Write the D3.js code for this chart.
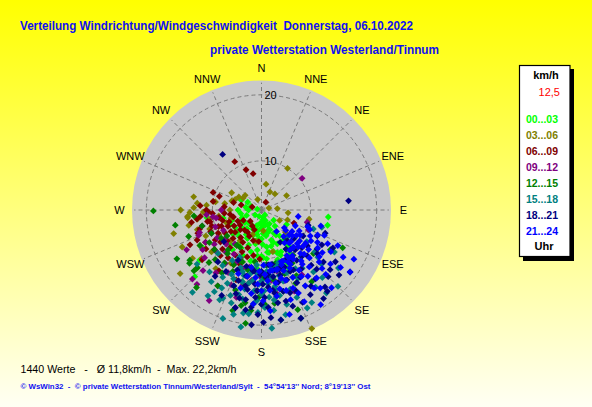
<!DOCTYPE html>
<html>
<head>
<meta charset="utf-8">
<script src="https://cdn.jsdelivr.net/npm/d3@7"></script>
<style>
body { margin: 0; }
svg { display: block; font-family: "Liberation Sans", Arial, sans-serif; }
</style>
</head>
<body>
<svg id="chart" width="592" height="407"></svg>
<script>
// TEXTS
var titleText = "Verteilung Windrichtung/Windgeschwindigkeit  Donnerstag, 06.10.2022";
var subTitleText = "private Wetterstation Westerland/Tinnum";
var footerStats = ["1440 Werte", "Ø 11,8km/h", "Max. 22,2km/h"];
var footerCopy = "© WsWin32  -  © private Wetterstation Tinnum/Westerland/Sylt  -  54°54'13'' Nord; 8°19'13'' Ost";

// AXES
var directions = ["N","NNE","NE","ENE","E","ESE","SE","SSE","S","SSW","SW","WSW","W","WNW","NW","NNW"];
var ringValues = [10, 20];
var maxSpeed = 22;

// LEGEND
var legendUnit = "km/h";
var legendCurrent = "12,5";
var hourLabels = ["00...03","03...06","06...09","09...12","12...15","15...18","18...21","21...24"];
var hourColors = ["#00ff00","#808000","#800000","#800080","#008000","#008080","#000080","#0000ff"];

// WIND SAMPLES [direction in degrees, speed km/h] PER 3-HOUR BLOCK
var h00 = [[296,5.3],[270,3.4],[282,1.4],[168,2.1],[145,1.8],[232,2.3],[248,5],[221,4.3],[171,2.7],[157,5.1],
  [190,5.8],[207,7],[228,7.3],[251,6.9],[258,8.3],[262,11],[237,13.3],[225,17],[231,14.8],[144,8],
  [143,9.2],[160,9.4],[172,8.9],[96,12.9],[103,13],[155,12.4],[154,11.6],[169,11.2],
  [140,5],[145,7],[148,9.5],[150,4],[152,6],[155,8],[157,10],[160,5],[162,7],[164,9],
  [166,11],[168,4],[170,6],[172,8],[174,10],[176,5.5],[178,7.5],[180,9.5],[182,4.5],[184,6.5],
  [186,8.5],[188,10.5],[190,5],[192,7],[194,9],[196,4],[198,6],[200,8],[202,10],[204,5],
  [206,7],[208,9],[210,4.5],[212,6.5],[214,8.5],[216,10],[218,5.5],[220,7.5],[222,9.5],[225,4.5],
  [228,6],[230,8],[233,5],[236,7],[240,5.5],[245,7.5],[250,4],[260,5],[270,5.5],[280,4],
  [290,3],[300,4],[200,2],[160,3],[130,4],[120,6.5],[135,8],[140,10],[150,11],[185,11.5],
  [150,6.5],[155,9.5],[160,7.5],[165,5.5],[170,9],[175,4],[180,6.5],[185,9.5],[190,7.5],[195,5],
  [158,4],[172,3],[186,3.5],[165,8],[178,9.8],[192,10.5],[147,10.5],[162,10.5]];
var h03 = [[32,10],[25,4.8],[75,2.2],[312,5.2],[303,5.2],[292,6.4],[281,13.2],[280,9.6],[96,6.1],[101,9.9],
  [268,13.6],[265,14],[280,10],[264,14],[258,14],[253,12.9],[231,14.4],[232,18.3],[230,12.6],[111,6.3],
  [133,7.2],[157,21.9],[287,6.9],[300,7.5],[240,10],[245,12],[250,8],[260,10.5],[270,7],[275,11],
  [280,8],[276,12.5],[300,6],[262,9],[255,7],[268,11.5],[340,3],[10,6],[40,5],[60,6.5],
  [85,4],[120,5],[200,6],[215,8],[220,11],[225,9],[235,15.5],[245,16],[255,16.5],[190,7],
  [175,5],[165,9],[250,11],[262,12.5],[272,13],[270,15],[240,13.5],[228,16],[218,14],[210,12]];
var h06 = [[331,11],[339,9],[347,8],[290,10.4],[288,9.2],[274,12],[284,5],[29,2.5],[288,2.7],[268,10.7],
  [262,12.6],[257,10.6],[249,9.5],[244,14.8],[112,7.6],
  [195,7],[197,10],[200,8.5],[202,11.5],[205,6.5],[205,9.5],[207,12],[210,8],[210,10.5],[212,6],
  [215,9],[215,11.5],[217,7.5],[220,10],[220,6],[222,12],[225,8.5],[225,11],[227,6.5],[228,9.5],
  [230,7.5],[230,12],[232,10.5],[235,8],[235,6],[237,11],[238,9],[240,7],[240,12.5],[242,10],
  [244,8],[245,6],[247,11],[248,9],[250,7.5],[252,10.5],[253,12.5],[255,8.5],[256,6.5],[258,11],
  [260,9],[262,7],[264,12],[266,10],[190,9.5],[188,12],[185,7],[192,13],[200,14],[215,14],
  [230,14.5],[245,13.5],[260,13.5],[270,11],[275,8],[280,10],[285,6.5],[265,8],[250,13],[235,13],
  [210,4.5],[225,4],[240,5],[200,5],[182,10],[178,12.5]];
var h09 = [[52,10.4],[250,12.7],[262,10],[221,17.6],[242,15.6],[105,9.7],[113,10.3],[148,14.3],
  [180,13],[182,12.5],[184,15],[186,12],[188,13.5],[190,14],[192,11.5],[194,14.5],[196,16.5],[198,12],
  [200,12.5],[202,15],[204,10.5],[206,11.5],[208,13.5],[210,16],[212,10.5],[214,12.5],[216,14.5],[218,9],
  [220,11],[222,13],[224,15.5],[226,10],[228,12],[230,14],[232,9.5],[234,11.5],[236,13.5],[238,10.5],
  [240,12.5],[242,9],[245,11],[248,13],[250,10],[255,12],[260,9.5],[265,11],[175,11],[172,13.5],
  [170,15.5],[168,12],[165,12.5],[162,14],[158,16],[195,18],[210,18.5],[225,17.5],[270,8.5]];
var h12 = [[269.5,19],[233.5,16.3],[235,16],[228,15.8],[188,19.9],[120,14.8],[115,16.3],[160,18.7],
  [172,17],[150,12],[155,15],[140,8],[165,11],[170,13.5],[175,12.5],[182,12],[180,15],[185,12],
  [190,11.5],[190,17],[195,14],[200,11],[205,13],[210,9],[210,16],[215,12.5],[220,10.5],[225,14],
  [230,12],[235,10],[240,13.5],[245,11],[250,14.5],[255,12],[260,16],[265,13],[140,10],[130,13],
  [145,16],[215,9],[130,9],[240,17.5],[220,18],
  [175,11],[178,13],[183,15],[187,10.5],[193,12],[198,15.5],[203,11],[207,12],[212,14],[218,11],
  [223,13],[228,16.5],[233,9],[238,12],[160,13],[165,15.5],[152,14],[145,11],
  [178,17],[182,16],[186,18],[192,17.5],[170,16],[196,18.5]];
var h15 = [[106,12.2],[110,11],[130,13.9],[127,17.3],[142,18.6],[151.5,18.6],[203.6,17.3],[199.6,20],[205,17.7],[220,18.9],
  [167,18.9],[182,18.2],[140,12],[140,15],[145,10],[145,17],[150,13],[150,16],[155,11],[155,14],
  [155,19],[160,12.5],[160,15.5],[165,11.5],[165,13],[165,17.5],[170,11.5],[170,14.5],[170,19.5],[175,12],
  [175,16],[180,12],[180,13.5],[180,17],[185,15],[185,11],[190,12.5],[190,18.5],[195,14],[195,16],
  [200,12],[200,15],[205,13.5],[210,11.5],[210,14.5],[215,16],[215,13],[220,15],[225,12],[230,15.5],
  [125,11],[120,15.5],[135,19],[190,20.5],[175,20.5],[160,20],[135,8],[150,11],[185,12],[205,10.5],
  [150,11.5],[152,14.5],[158,13],[158,17],[162,11],[163,14],[167,12],[168,16],[172,13],[173,18],
  [177,11],[178,15],[183,12.5],[183,16.5],[187,13.5],[192,15],[197,12.5],[198,17.5],[202,14],[207,16],
  [212,18],[145,13.5],[138,16.5],[132,15],[128,13],
  [170,15],[172,16.5],[175,14],[178,17.5],[180,15.5],[182,14],[185,17],[187,18.5],[190,14],[192,16.5],
  [195,13],[195,19],[200,16.5],[205,15],[210,17]];
var h18 = [[325,13],[84,16],[120,13.3],[125,16.4],[140.5,17.8],[179,19.6],
  [115,12],[118,15],[122,10],[125,13],[128,11.5],[130,15],[132,9],[135,12.5],[135,17],[138,14],
  [140,10.5],[142,16],[145,12],[145,19],[148,9.5],[150,14.5],[150,17.5],[153,11],[155,13],[157,16],
  [160,11.5],[160,14],[162,18],[165,12],[165,15.5],[168,12],[170,13],[170,17],[173,11],[175,14.5],
  [178,16],[180,12],[182,18.5],[185,14],[188,12],[190,16.5],[193,13],[195,18],[200,15],[205,17],
  [210,13.5],[205,11],[215,15],[150,8],[140,8.5],[130,18],[125,19],[110,13],[108,10],[170,19.5],
  [160,20],[185,20],[195,11.5],[220,13],[230,10],
  [128,13.5],[131,16.5],[133,11],[137,15],[139,12],[141,18.5],[143,10],[146,13.5],[147,16.5],[149,11.5],
  [152,13],[154,15],[156,18],[158,12],[161,16],[163,12],[164,13],[167,14],[169,11],[171,15.5],
  [174,12.5],[176,17.5],[179,14],[181,12.5],[184,16],[187,12],[189,18],[192,14.5],[197,16],[202,12.5],
  [172,15],[176,13],[180,17],[183,15],[186,17.5],[190,15],[194,16.5],[198,14],[175,19],[165,17]];
var h21 = [[110,10],[112,13],[115,8],[115,15.5],[118,11],[120,12.5],[120,17],[123,9.5],[125,14],[127,11],
  [128,16],[130,8.5],[130,12],[132,14.5],[133,10],[135,13],[135,16.5],[137,9],[138,11.5],[140,14],
  [140,7.5],[142,12.5],[143,17.5],[145,10],[145,15],[147,11.5],[148,13.5],[132,8],[150,16],[152,12],
  [153,11.5],[155,14],[155,18],[157,11],[158,15.5],[160,11.5],[160,12.5],[162,17],[164,13.5],[165,12],
  [167,15],[130,7],[170,12],[170,16],[172,12],[175,13.5],[175,18],[178,11],[180,15],[182,12],
  [185,13],[185,17],[190,11.5],[195,15],[200,13],[105,12],[100,8],[128,6.5],[145,6],[125,8],
  [138,18.5],[148,19.5],[165,19],[125,19],[118,18.5],
  [112,10.5],[114,12],[117,14],[119,9],[121,15],[122,11.5],[124,13],[126,9],[126,17.5],[129,10],
  [129,14],[131,11],[134,15.5],[136,12],[139,10],[141,16],[143,13],[146,11],[146,17],[149,14.5],
  [151,10.5],[154,12.5],[156,16.5],[159,11],[161,14],[163,15.5],[166,12],[169,14],[171,11],[174,15],
  [177,12.5],[179,16.5],[183,14],[187,15.5],[192,13],[135,10.5],[140,9],[150,11],[140,10],[145,8.5]];
var hourGroups = [h00, h03, h06, h09, h12, h15, h18, h21];

var W = 592, H = 407;
var cx = 261.5, cy = 210, R = 129.5;
var svg = d3.select("#chart");

// BACKGROUND
var grad = svg.append("defs").append("linearGradient")
    .attr("id", "bg").attr("x1", 0).attr("y1", 0).attr("x2", 0).attr("y2", 1);
grad.append("stop").attr("offset", "0%").attr("stop-color", "#ffff00");
grad.append("stop").attr("offset", "100%").attr("stop-color", "#fffff4");
svg.append("rect").attr("width", W).attr("height", H).attr("fill", "url(#bg)");

// TITLES
svg.append("text").attr("x", 20).attr("y", 29.5)
    .attr("textLength", 393).attr("lengthAdjust", "spacingAndGlyphs")
    .style("font-size", "12.5px").style("font-weight", "bold").style("fill", "#1010f0")
    .style("white-space", "pre")
    .text(titleText);
svg.append("text").attr("x", 210).attr("y", 54)
    .attr("textLength", 229).attr("lengthAdjust", "spacingAndGlyphs")
    .style("font-size", "12.5px").style("font-weight", "bold").style("fill", "#1010f0")
    .text(subTitleText);

// SCALES
var rScale = d3.scalePow().exponent(1.23).domain([0, maxSpeed]).range([0, R]);
var aScale = d3.scaleLinear().domain([0, 360]).range([0, 2 * Math.PI]);
function px(d, s) { return cx + rScale(s) * Math.sin(aScale(d)); }
function py(d, s) { return cy - rScale(s) * Math.cos(aScale(d)); }

var g = svg.append("g");

// DISK
g.append("circle").attr("cx", cx).attr("cy", cy).attr("r", R).attr("fill", "#c9c9c9");

// GRID
g.selectAll("circle.ring").data(ringValues).enter().append("circle")
    .attr("class", "ring")
    .attr("cx", cx).attr("cy", cy).attr("r", function(d) { return rScale(d); })
    .attr("fill", "none").attr("stroke", "#7a7a7a").attr("stroke-dasharray", "4,3");
g.selectAll("line.spoke").data(directions).enter().append("line")
    .attr("class", "spoke")
    .attr("x1", cx).attr("y1", cy)
    .attr("x2", function(d, i) { return px(i * 22.5, maxSpeed - 0.3); })
    .attr("y2", function(d, i) { return py(i * 22.5, maxSpeed - 0.3); })
    .attr("stroke", "#7a7a7a").attr("stroke-dasharray", "4,3");

// RING LABELS
g.selectAll("text.ringlab").data(ringValues).enter().append("text")
    .attr("class", "ringlab")
    .attr("x", cx + 3).attr("y", function(d) { return cy - rScale(d) + 4; })
    .style("font-size", "11px").style("fill", "#000")
    .text(function(d) { return d; });

// DIRECTION LABELS
g.selectAll("text.dir").data(directions).enter().append("text")
    .attr("class", "dir")
    .attr("x", function(d, i) { return cx + 142 * Math.sin(aScale(i * 22.5)); })
    .attr("y", function(d, i) { return cy - 142 * Math.cos(aScale(i * 22.5)) + 4; })
    .attr("text-anchor", "middle")
    .style("font-size", "11px").style("fill", "#000")
    .text(function(d) { return d; });

// POINTS
var diamond = "M0,-3.4L3.4,0L0,3.4L-3.4,0Z";
hourGroups.forEach(function(pts, gi) {
    g.append("g").selectAll("path").data(pts).enter().append("path")
        .attr("d", diamond)
        .attr("transform", function(d) { return "translate(" + px(d[0], d[1]) + "," + py(d[0], d[1]) + ")"; })
        .attr("fill", hourColors[gi]);
});

// LEGEND
var lg = svg.append("g");
lg.append("rect").attr("x", 523).attr("y", 69).attr("width", 51).attr("height", 192).attr("fill", "#000");
lg.append("rect").attr("x", 519.5).attr("y", 65.5).attr("width", 50.5).attr("height", 191)
    .attr("fill", "#fff").attr("stroke", "#000").attr("stroke-width", 1.2);
lg.append("text").attr("x", 546).attr("y", 79).attr("text-anchor", "middle")
    .style("font-size", "11px").style("font-weight", "bold").text(legendUnit);
lg.append("text").attr("x", 560).attr("y", 96).attr("text-anchor", "end")
    .style("font-size", "11px").style("fill", "#ff0000").text(legendCurrent);
lg.selectAll("text.hour").data(hourLabels).enter().append("text")
    .attr("class", "hour")
    .attr("x", 542).attr("y", function(d, i) { return 122.5 + i * 16; })
    .attr("text-anchor", "middle")
    .style("font-size", "10.5px").style("font-weight", "bold")
    .style("fill", function(d, i) { return hourColors[i]; })
    .text(function(d) { return d; });
lg.append("text").attr("x", 544).attr("y", 250).attr("text-anchor", "middle")
    .style("font-size", "11px").style("font-weight", "bold").text("Uhr");

// FOOTER
svg.append("text").attr("x", 20.5).attr("y", 373)
    .attr("textLength", 216).attr("lengthAdjust", "spacingAndGlyphs")
    .style("font-size", "11px").style("fill", "#000")
    .style("white-space", "pre")
    .text(footerStats[0] + "   -   " + footerStats[1] + "  -  " + footerStats[2]);
svg.append("text").attr("x", 20.5).attr("y", 389)
    .attr("textLength", 350).attr("lengthAdjust", "spacingAndGlyphs")
    .style("font-size", "8px").style("font-weight", "bold").style("fill", "#1010f0")
    .style("white-space", "pre")
    .text(footerCopy);
</script>
</body>
</html>
